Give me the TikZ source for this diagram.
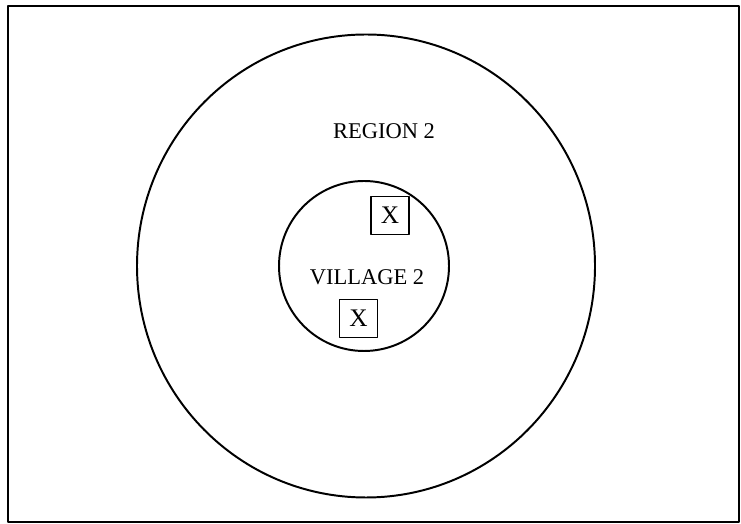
\documentclass[tikz,border=0pt]{standalone}
\usepackage{fontspec}
\setmainfont{Liberation Serif}
\usetikzlibrary{positioning}

\begin{document}
\begin{tikzpicture}[x=0.025cm, y=0.025cm, line join=round, line cap=round,
    ring/.style={draw=black, line width=1.4pt},
    markbox/.style={draw=black, line width=1pt, inner sep=0pt,
        minimum width=0.95cm, minimum height=0.95cm,
        font=\fontsize{18}{21}\selectfont},
    tag/.style={inner sep=0pt, font=\fontsize{16}{19}\selectfont}]
\useasboundingbox (0,0) rectangle (741,524);

\coordinate (frameSW) at (8,2);
\coordinate (frameNE) at (739,518);
\coordinate (regionC) at (366,258);
\coordinate (villageC) at (364,258);

% outer frame
\draw[line width=0.9pt] (frameSW) rectangle (frameNE);

% region and village
\draw[ring] (regionC) ellipse (229 and 231.5);
\draw[ring] (villageC) circle (85);

\node[tag] (region) at (384,393) {REGION 2};
\node[tag] (village) at (367,247) {VILLAGE 2};

% the two sites
\node[markbox] (siteA) at (390,308.5) {X};
\node[markbox] (siteB) at (358.5,205.5) {X};
\end{tikzpicture}
\end{document}
